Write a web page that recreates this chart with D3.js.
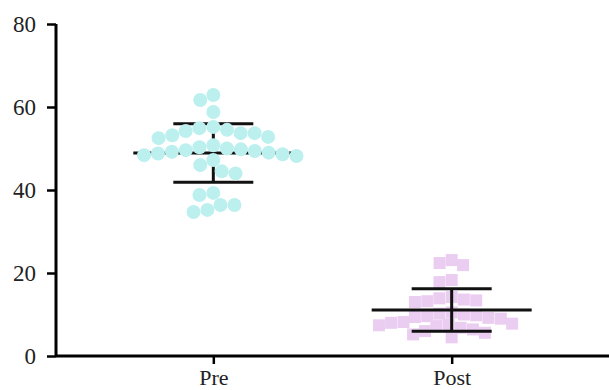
<!DOCTYPE html>
<html lang="en">
<head>
    <meta charset="UTF-8">
    <title>Pre / Post scatter</title>
    <script src="https://cdn.jsdelivr.net/npm/d3@7/dist/d3.min.js"></script>
    <style>
        body { margin: 0; background: #fff; }
        svg { display: block; }
        .tick text { fill: #222; }
    </style>
</head>
<body>
    <div id="chart"></div>
    <script>
        // data
        const groups = ['Pre', 'Post'];
        const preValues = [62.9, 61.7, 58.8,
            55.2, 54.9, 54.5, 54.2, 53.7, 53.7, 53.2, 52.8, 52.5,
            50.8, 50.3, 50.0, 49.8, 49.6, 49.4, 49.2, 49.0, 48.8, 48.6, 48.4, 48.2,
            47.2, 46.0, 44.5, 44.0,
            39.3, 38.8, 36.4, 36.4, 35.2, 34.7];
        const postValues = [23.1, 22.4, 21.9, 18.3, 17.8,
            14.2, 13.9, 13.6, 13.4, 13.2, 13.0,
            10.5, 10.2, 10.0, 9.8, 9.6, 9.4, 9.2, 9.0,
            8.2, 8.0, 7.8, 7.6, 7.4, 7.2, 6.8, 6.4,
            6.0, 5.6, 5.2, 4.5];
        const yTicks = [0, 20, 40, 60, 80];

        const width = 609, height = 390;
        const font = '"Liberation Serif", "Times New Roman", Times, serif';
        const svg = d3.select('#chart').append('svg')
            .attr('width', width)
            .attr('height', height);

        const defs = svg.append('defs');
        defs.append('filter').attr('id', 'soft')
            .append('feGaussianBlur').attr('stdDeviation', 0.7);

        const y = d3.scaleLinear().domain([0, 80]).range([356, 24]);
        const x = d3.scalePoint().domain(groups).range([56, 609]).padding(0.66);

        // simple beeswarm: each point takes the nearest free spot to the column centre
        function swarm(values, r) {
            const placed = [];
            values.forEach(v => {
                const py = y(v);
                const blocked = [];
                placed.forEach(p => {
                    const dy = Math.abs(p.y - py);
                    if (dy < 2 * r) {
                        const dx = Math.sqrt(4 * r * r - dy * dy);
                        blocked.push([p.dx - dx, p.dx + dx]);
                    }
                });
                const cands = [0];
                blocked.forEach(b => cands.push(b[0], b[1]));
                cands.sort((a, b) => Math.abs(a) - Math.abs(b));
                const dx = cands.find(c => blocked.every(b => c <= b[0] + 1e-6 || c >= b[1] - 1e-6));
                placed.push({ v: v, y: py, dx: dx });
            });
            return placed;
        }

        function drawBars(values, name) {
            const cx = x(name);
            const m = d3.mean(values);
            const sd = d3.deviation(values);
            const g = svg.append('g').attr('stroke', '#111').attr('stroke-width', 3);
            g.append('line')
                .attr('x1', cx).attr('x2', cx)
                .attr('y1', y(m + sd)).attr('y2', y(m - sd));
            g.append('line')
                .attr('x1', cx - 80).attr('x2', cx + 80)
                .attr('y1', y(m)).attr('y2', y(m));
            [m + sd, m - sd].forEach(v => {
                g.append('line')
                    .attr('x1', cx - 40).attr('x2', cx + 40)
                    .attr('y1', y(v)).attr('y2', y(v));
            });
        }

        // Pre: bars under the circles
        drawBars(preValues, 'Pre');
        svg.append('g').attr('filter', 'url(#soft)')
            .selectAll('circle')
            .data(swarm(preValues, 7))
            .enter()
            .append('circle')
            .attr('cx', d => x('Pre') + d.dx)
            .attr('cy', d => d.y)
            .attr('r', 7)
            .attr('fill', '#bcf0ef');

        // Post: squares under the bars
        svg.append('g').attr('filter', 'url(#soft)')
            .selectAll('rect')
            .data(swarm(postValues, 6.2))
            .enter()
            .append('rect')
            .attr('x', d => x('Post') + d.dx - 6)
            .attr('y', d => d.y - 6)
            .attr('width', 12)
            .attr('height', 12)
            .attr('fill', '#ebcdf2');
        drawBars(postValues, 'Post');

        // axes
        const yAxis = svg.append('g')
            .attr('transform', 'translate(56,0)')
            .call(d3.axisLeft(y).tickValues(yTicks).tickSize(9).tickPadding(11).tickFormat(d3.format('d')))
            .attr('font-family', font)
            .attr('font-size', 23);
        yAxis.select('.domain').attr('stroke-width', 3).attr('d', 'M0,' + y(80) + 'V' + y(0));
        yAxis.selectAll('.tick line').attr('stroke-width', 2.5);

        const xAxis = svg.append('g')
            .attr('transform', 'translate(0,356)')
            .call(d3.axisBottom(x).tickSize(8).tickPadding(5))
            .attr('font-family', font)
            .attr('font-size', 22);
        xAxis.select('.domain').attr('stroke-width', 3).attr('d', 'M56,0H609');
        xAxis.selectAll('.tick line').attr('stroke-width', 2.5);
    </script>
</body>
</html>
